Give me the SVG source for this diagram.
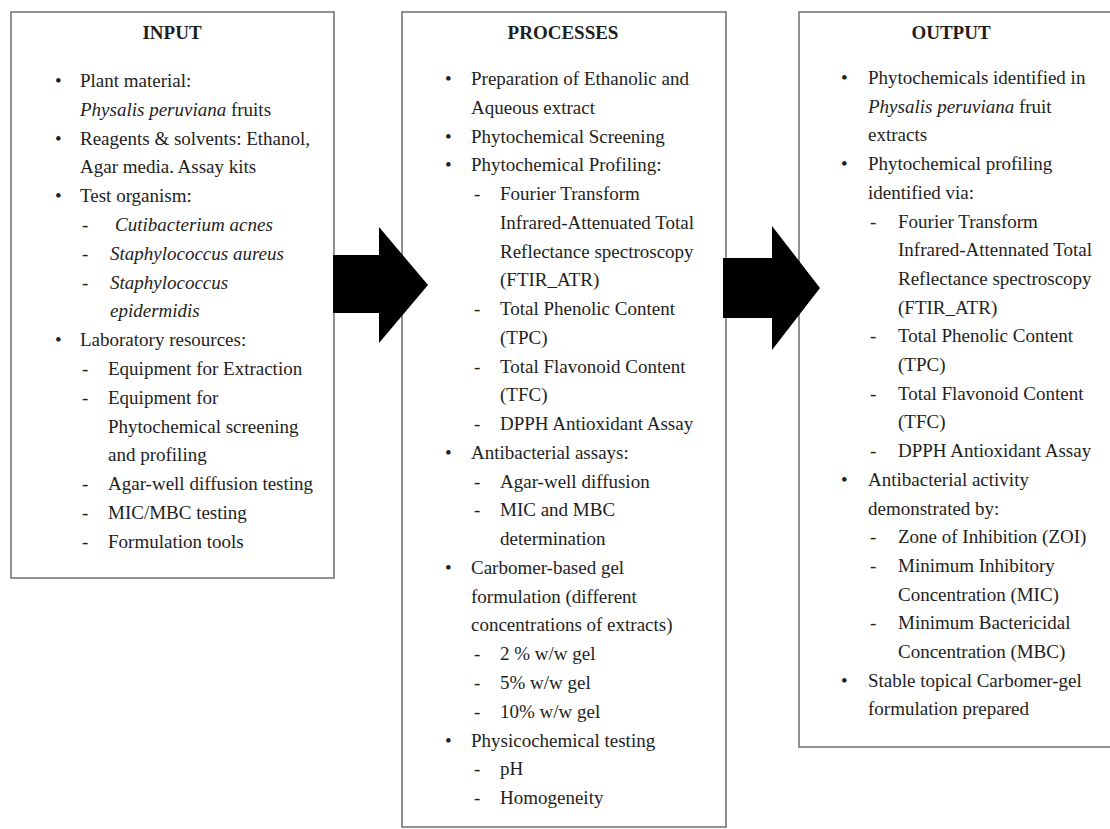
<svg xmlns="http://www.w3.org/2000/svg" width="1110" height="829" viewBox="0 0 1110 829">
<style>
.box{fill:#fff;stroke:#6e6e6e;stroke-width:1.5}
.t{font-family:"Liberation Serif","Times New Roman",serif;font-size:19px;fill:#1e1e1e}
.h{font-weight:bold;text-anchor:middle}
.i{font-style:italic}
.arrow{fill:#000}
</style>
<rect x="0" y="0" width="1110" height="829" fill="#fff"/>
<g id="input">
<rect class="box" x="11" y="12" width="323" height="566"/>
<g class="t">
<text class="h" x="172" y="39">INPUT</text>
<text x="55" y="87">•</text><text x="80" y="87">Plant material:</text>
<text x="80" y="115.8"><tspan class="i">Physalis peruviana</tspan> fruits</text>
<text x="55" y="144.6">•</text><text x="80" y="144.6">Reagents &amp; solvents: Ethanol,</text>
<text x="80" y="173.4">Agar media. Assay kits</text>
<text x="55" y="202.2">•</text><text x="80" y="202.2">Test organism:</text>
<text x="82" y="231">-</text><text class="i" x="115" y="231">Cutibacterium acnes</text>
<text x="82" y="259.8">-</text><text class="i" x="110" y="259.8">Staphylococcus aureus</text>
<text x="82" y="288.6">-</text><text class="i" x="110" y="288.6">Staphylococcus</text>
<text class="i" x="110" y="317.4">epidermidis</text>
<text x="55" y="346.2">•</text><text x="80" y="346.2">Laboratory resources:</text>
<text x="82" y="375">-</text><text x="108" y="375">Equipment for Extraction</text>
<text x="82" y="403.8">-</text><text x="108" y="403.8">Equipment for</text>
<text x="108" y="432.6">Phytochemical screening</text>
<text x="108" y="461.4">and profiling</text>
<text x="82" y="490.2">-</text><text x="108" y="490.2">Agar-well diffusion testing</text>
<text x="82" y="519">-</text><text x="108" y="519">MIC/MBC testing</text>
<text x="82" y="547.8">-</text><text x="108" y="547.8">Formulation tools</text>
</g>
</g>
<g id="processes">
<rect class="box" x="402" y="12" width="324" height="815"/>
<g class="t">
<text class="h" x="563" y="39">PROCESSES</text>
<text x="445" y="85">•</text><text x="471" y="85">Preparation of Ethanolic and</text>
<text x="471" y="113.8">Aqueous extract</text>
<text x="445" y="142.5">•</text><text x="471" y="142.5">Phytochemical Screening</text>
<text x="445" y="171.3">•</text><text x="471" y="171.3">Phytochemical Profiling:</text>
<text x="474" y="200">-</text><text x="500" y="200">Fourier Transform</text>
<text x="500" y="228.8">Infrared-Attenuated Total</text>
<text x="500" y="257.6">Reflectance spectroscopy</text>
<text x="500" y="286.3">(FTIR_ATR)</text>
<text x="474" y="315.1">-</text><text x="500" y="315.1">Total Phenolic Content</text>
<text x="500" y="343.8">(TPC)</text>
<text x="474" y="372.6">-</text><text x="500" y="372.6">Total Flavonoid Content</text>
<text x="500" y="401.4">(TFC)</text>
<text x="474" y="430.1">-</text><text x="500" y="430.1">DPPH Antioxidant Assay</text>
<text x="445" y="458.9">•</text><text x="471" y="458.9">Antibacterial assays:</text>
<text x="474" y="487.6">-</text><text x="500" y="487.6">Agar-well diffusion</text>
<text x="474" y="516.4">-</text><text x="500" y="516.4">MIC and MBC</text>
<text x="500" y="545.2">determination</text>
<text x="445" y="573.9">•</text><text x="471" y="573.9">Carbomer-based gel</text>
<text x="471" y="602.7">formulation (different</text>
<text x="471" y="631.4">concentrations of extracts)</text>
<text x="474" y="660.2">-</text><text x="500" y="660.2">2 % w/w gel</text>
<text x="474" y="689">-</text><text x="500" y="689">5% w/w gel</text>
<text x="474" y="717.7">-</text><text x="500" y="717.7">10% w/w gel</text>
<text x="445" y="746.5">•</text><text x="471" y="746.5">Physicochemical testing</text>
<text x="474" y="775.2">-</text><text x="500" y="775.2">pH</text>
<text x="474" y="804">-</text><text x="500" y="804">Homogeneity</text>
</g>
</g>
<g id="output">
<rect class="box" x="799" y="12" width="316" height="735"/>
<g class="t">
<text class="h" x="951" y="39">OUTPUT</text>
<text x="841" y="84">•</text><text x="868" y="84">Phytochemicals identified in</text>
<text x="868" y="112.7"><tspan class="i">Physalis peruviana</tspan> fruit</text>
<text x="868" y="141.4">extracts</text>
<text x="841" y="170.1">•</text><text x="868" y="170.1">Phytochemical profiling</text>
<text x="868" y="198.8">identified via:</text>
<text x="870" y="227.5">-</text><text x="898" y="227.5">Fourier Transform</text>
<text x="898" y="256.2">Infrared-Attennated Total</text>
<text x="898" y="284.9">Reflectance spectroscopy</text>
<text x="898" y="313.6">(FTIR_ATR)</text>
<text x="870" y="342.3">-</text><text x="898" y="342.3">Total Phenolic Content</text>
<text x="898" y="371">(TPC)</text>
<text x="870" y="399.7">-</text><text x="898" y="399.7">Total Flavonoid Content</text>
<text x="898" y="428.4">(TFC)</text>
<text x="870" y="457.1">-</text><text x="898" y="457.1">DPPH Antioxidant Assay</text>
<text x="841" y="485.8">•</text><text x="868" y="485.8">Antibacterial activity</text>
<text x="868" y="514.5">demonstrated by:</text>
<text x="870" y="543.2">-</text><text x="898" y="543.2">Zone of Inhibition (ZOI)</text>
<text x="870" y="571.9">-</text><text x="898" y="571.9">Minimum Inhibitory</text>
<text x="898" y="600.6">Concentration (MIC)</text>
<text x="870" y="629.3">-</text><text x="898" y="629.3">Minimum Bactericidal</text>
<text x="898" y="658">Concentration (MBC)</text>
<text x="841" y="686.7">•</text><text x="868" y="686.7">Stable topical Carbomer-gel</text>
<text x="868" y="715.4">formulation prepared</text>
</g>
</g>
<g id="connectors">
<polygon class="arrow" points="333,255 379,255 379,227 428,285 379,343 379,313 333,313"/>
<polygon class="arrow" points="723,258 772,258 772,226 820,288 772,350 772,318 723,318"/>
</g>
</svg>
